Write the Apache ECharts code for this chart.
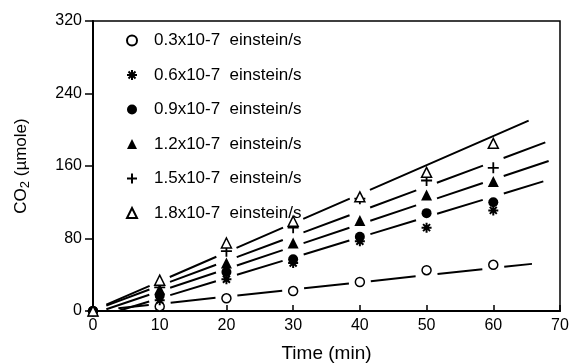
<!DOCTYPE html>
<html>
<head>
<meta charset="utf-8">
<script src="https://cdn.jsdelivr.net/npm/echarts@6/dist/echarts.min.js"></script>
<style>
  html, body { margin: 0; padding: 0; background: #fff; }
  #chart { width: 570px; height: 364px; }
</style>
</head>
<body>
<div id="chart"></div>
<script>
// Sampling times (min)
const times = [0, 10, 20, 30, 40, 50, 60];

// CO2 evolved (µmole) at each photon flux
const co2At03 = [0, 5, 14, 22, 32, 45, 51];
const co2At06 = [0, 12, 35, 53, 77, 92, 111];
const co2At09 = [0, 17, 43, 57, 82, 108, 120];
const co2At12 = [0, 24, 53, 75, 100, 128, 143];
const co2At15 = [0, 26, 66, 92, 124, 144, 158];
const co2At18 = [0, 34, 75, 99, 126, 153, 185];

const seriesNames = [
  '0.3x10-7  einstein/s',
  '0.6x10-7  einstein/s',
  '0.9x10-7  einstein/s',
  '1.2x10-7  einstein/s',
  '1.5x10-7  einstein/s',
  '1.8x10-7  einstein/s'
];

// Fitted straight lines: [xStart, yStart, xEnd, yEnd]
const fit03 = [3.8, 3, 65.8, 52];
const fit09 = [4, 0.5, 67.5, 143];
const fit12 = [2, 2, 68.3, 165.5];
const fit15 = [2, 6, 67.8, 186];
const fit18 = [2, 7, 65.3, 210];

// Columns where each fitted line is interrupted around the markers
const breaks03 = [10, 20, 30, 40, 50, 60];
const breaks09 = [10, 20, 30, 40, 50, 60];
const breaks12 = [10, 20, 30, 40, 50, 60];
const breaks15 = [10, 20, 30, 40, 50, 60];
const breaks18 = [10, 20, 30, 40];

// Axis ranges / ticks
const xMin = 0, xMax = 70, xStep = 10;
const yMin = 0, yMax = 320, yStep = 80;

const FONT = "'Liberation Sans', Arial, Helvetica, sans-serif";
const BLACK = '#000';

const asteriskPath = 'path://M0,5L10,5M5,0L5,10M1.5,1.5L8.5,8.5M8.5,1.5L1.5,8.5';
const plusPath = 'path://M0,5L10,5M5,0L5,10';

const markerStyles = [
  { symbol: 'circle', size: 9, itemStyle: { color: '#fff', borderColor: BLACK, borderWidth: 1.5, opacity: 1 } },
  { symbol: asteriskPath, size: 10, itemStyle: { color: BLACK, borderColor: BLACK, borderWidth: 2, opacity: 1 } },
  { symbol: 'circle', size: 10, itemStyle: { color: BLACK, opacity: 1 } },
  { symbol: 'triangle', size: 11, itemStyle: { color: BLACK, opacity: 1 } },
  { symbol: plusPath, size: 11, itemStyle: { color: BLACK, borderColor: BLACK, borderWidth: 1.8, opacity: 1 } },
  { symbol: 'triangle', size: 10, itemStyle: { color: '#fff', borderColor: BLACK, borderWidth: 1.5, opacity: 1 } }
];

const valueSets = [co2At03, co2At06, co2At09, co2At12, co2At15, co2At18];
const fits = [fit03, fit09, fit12, fit15, fit18];
const fitBreaks = [breaks03, breaks09, breaks12, breaks15, breaks18];
const fitNames = ['fit-0.3', 'fit-0.9', 'fit-1.2', 'fit-1.5', 'fit-1.8'];

const lineSeries = fits.map((f, i) => ({
  name: fitNames[i],
  type: 'line',
  data: [[f[0], f[1]], [f[2], f[3]]],
  symbol: 'none',
  silent: true,
  z: 2,
  lineStyle: { color: BLACK, width: 2 }
}));

const scatterSeries = valueSets.map((vals, i) => ({
  name: seriesNames[i],
  type: 'scatter',
  data: times.map((t, j) => [t, vals[j]]),
  symbol: markerStyles[i].symbol,
  symbolSize: markerStyles[i].size,
  itemStyle: markerStyles[i].itemStyle,
  z: 3
}));

const chart = echarts.init(document.getElementById('chart'), null, { renderer: 'canvas' });

const option = {
  animation: false,
  backgroundColor: '#fff',
  grid: {
    left: 93, right: 10, top: 21, bottom: 53,
    outerBoundsMode: 'none',
    containLabel: false,
    show: true, borderColor: BLACK, borderWidth: 1.5, backgroundColor: 'transparent'
  },
  legend: {
    orient: 'vertical',
    left: 126,
    top: 32,
    padding: 0,
    itemWidth: 10,
    itemHeight: 10,
    itemGap: 17.5,
    selectedMode: false,
    data: seriesNames,
    textStyle: { fontFamily: FONT, fontSize: 17, color: BLACK, lineHeight: 17, padding: [0, 0, 0, 12] }
  },
  xAxis: {
    type: 'value',
    min: xMin, max: xMax, interval: xStep,
    name: 'Time (min)',
    nameLocation: 'middle',
    nameGap: 33,
    nameTextStyle: { fontFamily: FONT, fontSize: 19, color: BLACK },
    axisLine: { show: true, onZero: false, lineStyle: { color: BLACK, width: 2 } },
    axisTick: { show: true, inside: true, length: 6, lineStyle: { color: BLACK, width: 1.5 } },
    axisLabel: { fontFamily: FONT, fontSize: 16, color: BLACK, margin: 7 },
    splitLine: { show: false }
  },
  yAxis: {
    type: 'value',
    min: yMin, max: yMax, interval: yStep,
    name: '{t|CO}{s|2}{t| (µmole)}',
    nameLocation: 'middle',
    nameGap: 61,
    nameRotate: 90,
    nameTextStyle: {
      rich: {
        t: { fontFamily: FONT, fontSize: 17, color: BLACK },
        s: { fontFamily: FONT, fontSize: 13, color: BLACK, padding: [8, 0, 0, 0] }
      }
    },
    axisLine: { show: true, onZero: false, lineStyle: { color: BLACK, width: 2 } },
    axisTick: { show: true, inside: false, length: 8, lineStyle: { color: BLACK, width: 1.5 } },
    axisLabel: { fontFamily: FONT, fontSize: 16, color: BLACK, margin: 11 },
    splitLine: { show: false }
  },
  series: lineSeries.concat(scatterSeries)
};

chart.setOption(option);

// Interrupt each fitted line around the marker columns (gap measured in pixels)
const GAP = 22;
const dashedLines = fits.map((f, i) => {
  const pa = chart.convertToPixel({ gridIndex: 0 }, [f[0], f[1]]);
  const pb = chart.convertToPixel({ gridIndex: 0 }, [f[2], f[3]]);
  const perUnit = Math.hypot(pb[0] - pa[0], pb[1] - pa[1]) / (f[2] - f[0]);
  const dash = [];
  let pos = 0;
  fitBreaks[i].forEach(xb => {
    const c = (xb - f[0]) * perUnit;
    dash.push(Math.max(0, c - GAP / 2 - pos), GAP);
    pos = c + GAP / 2;
  });
  dash.push(3000, 0);
  return { name: fitNames[i], lineStyle: { color: BLACK, width: 2, type: dash } };
});

chart.setOption({ series: dashedLines.concat(scatterSeries.map(s => ({ name: s.name }))) });
</script>
</body>
</html>
